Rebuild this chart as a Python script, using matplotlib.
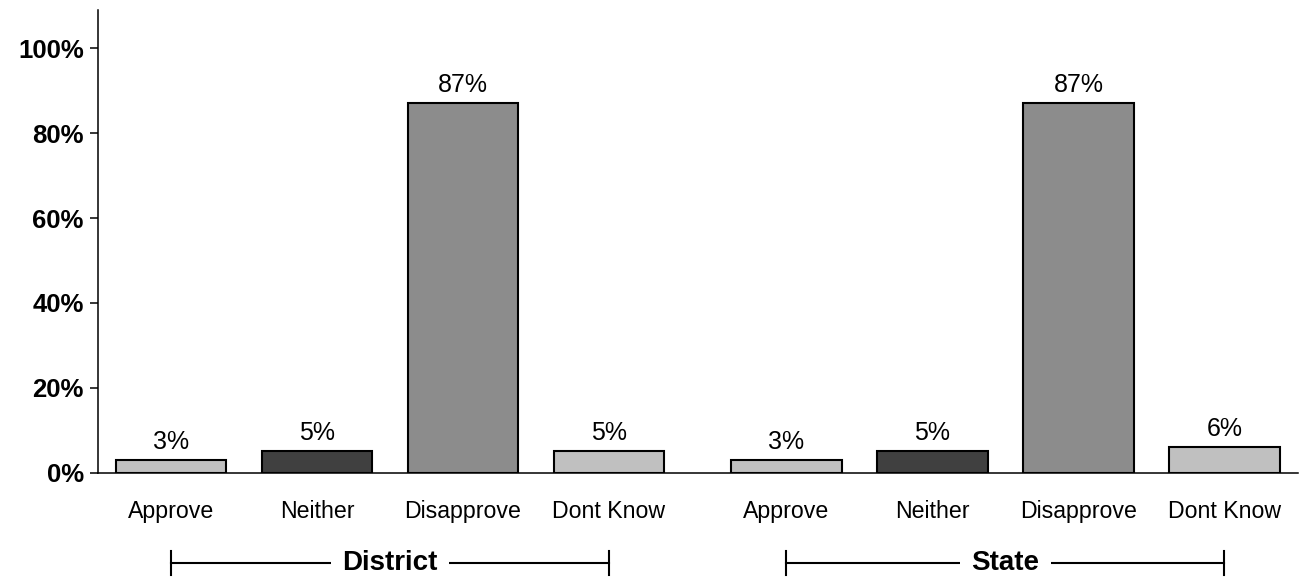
import matplotlib
matplotlib.use("Agg")
import matplotlib.pyplot as plt
import matplotlib.transforms as mtransforms

plt.rcParams['font.family'] = ['Liberation Sans', 'DejaVu Sans']

# ---- data ----
categories = ["Approve", "Neither", "Disapprove", "Dont Know"]
groups = ["District", "State"]
district_values = [3, 5, 87, 5]
state_values = [3, 5, 87, 6]
bar_colors = ["#C0C0C0", "#404040", "#8C8C8C", "#C0C0C0"]
y_ticks = [0, 20, 40, 60, 80, 100]
y_tick_labels = ["0%", "20%", "40%", "60%", "80%", "100%"]

W, H = 1302, 577
fig = plt.figure(figsize=(W / 100, H / 100), dpi=100)
ax = fig.add_axes([97.7 / W, (H - 472.7) / H, 1200 / W, 462.7 / H])

group_offsets = [0.0, 4.215]
bar_width = 0.76
all_values = [district_values, state_values]

for g, (gname, vals, off) in enumerate(zip(groups, all_values, group_offsets)):
    xs = [off + i for i in range(len(categories))]
    ax.bar(xs, vals, width=bar_width, color=bar_colors, edgecolor="black",
           linewidth=1.5, zorder=3)
    for x, v, c in zip(xs, vals, categories):
        ax.annotate(f"{v}%", xy=(x, v), xytext=(0, 8), textcoords="offset points",
                    ha="center", va="baseline", fontsize=18)
        ax.annotate(c, xy=(x, 0), xycoords=("data", "axes fraction"),
                    xytext=(0, -32.8), textcoords="offset points",
                    ha="center", va="baseline", fontsize=16.7)
    # bracket
    trans = mtransforms.blended_transform_factory(ax.transData, ax.transAxes)
    yb = -90 / 462.7
    th = 12 / 462.7
    ax.plot([xs[0], xs[-1]], [yb, yb], color="black", lw=1.5, transform=trans,
            clip_on=False)
    for xe in (xs[0], xs[-1]):
        ax.plot([xe, xe], [yb - th, yb + th], color="black", lw=1.5,
                transform=trans, clip_on=False)
    ax.text((xs[0] + xs[-1]) / 2, yb, gname, transform=trans, ha="center",
            va="center", fontsize=20, fontweight="bold",
            bbox=dict(facecolor="white", edgecolor="none", pad=8))

ax.set_xlim(-0.502, 7.717)
ax.set_ylim(0, 109)
ax.set_xticks([])
ax.set_yticks(y_ticks)
ax.set_yticklabels(y_tick_labels, fontsize=18.5, fontweight="bold")
ax.tick_params(axis="y", direction="out", length=6, width=1.1, pad=4)
for s in ("top", "right"):
    ax.spines[s].set_visible(False)
for s in ("left", "bottom"):
    ax.spines[s].set_linewidth(1.1)

fig.savefig("out.png", dpi=100)
